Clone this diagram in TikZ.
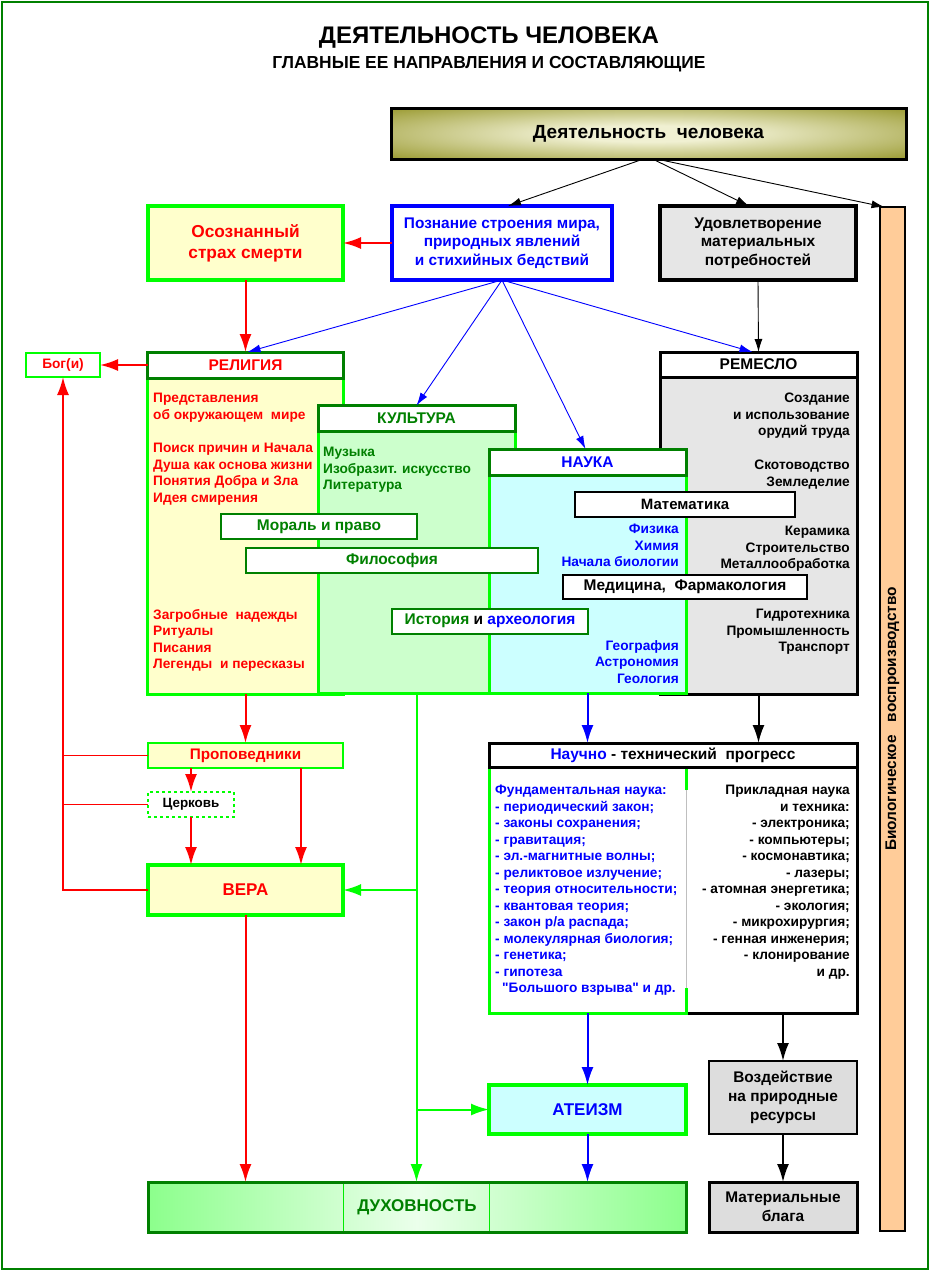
\documentclass[tikz,border=0pt]{standalone}
\usepackage{fontspec}
\setmainfont{Liberation Sans}
\usepackage{xcolor}
\usepackage{tikz}
\usetikzlibrary{positioning,calc,arrows.meta}

\definecolor{brightgreen}{RGB}{0,255,0}
\definecolor{darkgreen}{RGB}{0,128,0}
\definecolor{lightyellow}{RGB}{255,255,204}
\definecolor{lightgreen}{RGB}{204,255,204}
\definecolor{lightcyan}{RGB}{204,255,255}
\definecolor{remgray}{RGB}{230,230,230}
\definecolor{vozdgray}{RGB}{221,221,221}
\definecolor{peach}{RGB}{255,204,153}
\definecolor{olivedark}{RGB}{128,128,0}
\definecolor{olivelight}{RGB}{240,240,210}
\definecolor{dukhgreen}{RGB}{140,255,140}
\definecolor{dukhlight}{RGB}{235,255,235}

\newcommand{\fsz}[2]{\fontsize{#1}{#2}\selectfont\bfseries}
\newcommand{\dquote}{\XeTeXglyph\XeTeXcharglyph"22\relax}

\pgfdeclareradialshading{deyatshade}{\pgfpoint{0bp}{0bp}}{color(0bp)=(olivelight); color(8bp)=(olivelight); color(44bp)=(olivedark); color(50bp)=(olivedark)}

\begin{document}
\begin{tikzpicture}[x=1pt, y=-1pt,
    box/.style={rectangle, draw, inner sep=0pt, outer sep=0pt, align=center},
    headbox/.style={box, draw=darkgreen, line width=3pt, fill=white, minimum width=196pt, minimum height=26pt, font=\fsz{15.5}{18}},
    bodybox/.style={box, draw=brightgreen, line width=3pt, minimum width=196pt},
    subbox/.style={box, line width=2pt, fill=white, minimum height=25pt, font=\fsz{15.5}{18}},
    txt/.style={inner sep=0pt, font=\fsz{13.7}{16.5}},
    arrow/.style={-{Latex[length=18pt,width=12pt]}, line width=2pt},
    thinarrow/.style={-{Latex[length=13pt,width=8pt]}, line width=0.9pt}]

    \useasboundingbox (0,0) rectangle (931,1272);
    \draw[darkgreen, line width=2pt] (2,2) rectangle (928,1269);

    % title
    \node[font=\fsz{24}{28}, anchor=base] (title) at (489,43) {ДЕЯТЕЛЬНОСТЬ ЧЕЛОВЕКА};
    \node[font=\fsz{17.4}{20}, anchor=base] (subtitle) at (489,68) {ГЛАВНЫЕ ЕЕ НАПРАВЛЕНИЯ И СОСТАВЛЯЮЩИЕ};

    % top row
    \node[box, draw=black, line width=3pt, shade, shading=deyatshade, minimum width=515pt, minimum height=51pt, font=\fsz{19}{22}] (deyat) at (648.5,133.5) {Деятельность\ \ человека};
    \node[box, draw=blue, line width=3.3pt, fill=white, minimum width=220pt, minimum height=74pt, text=blue, font=\fsz{15.4}{18.5}] (pozn) at (502,243) {Познание строения мира,\\природных явлений\\и стихийных бедствий};
    \node[box, draw=brightgreen, line width=3.3pt, fill=lightyellow, minimum width=195pt, minimum height=74pt, text=red, font=\fsz{17.3}{21}] (osozn) at (245.5,243) {Осознанный\\страх смерти};
    \node[box, draw=black, line width=3.3pt, fill=remgray, minimum width=196pt, minimum height=74pt, font=\fsz{15.5}{18.5}] (udovl) at (758,243) {Удовлетворение\\материальных\\потребностей};
    \node[box, draw=black, line width=1.5pt, fill=peach, minimum width=25pt, minimum height=1024pt] (bio) at (892.5,719) {};
    \node[rotate=90, font=\fsz{15.4}{18}] (biotext) at (bio.center) {Биологическое\ \ \ воспроизводство};

    % religion
    \node[bodybox, fill=lightyellow, minimum height=316pt] (relbody) at (245.5,536) {};
    \node[headbox, text=red] (relhead) at (245.5,365) {РЕЛИГИЯ};
    \node[txt, text=red, anchor=north west, align=left] (relA) at (153,393) {Представления\\об окружающем\ \ мире};
    \node[txt, text=red, anchor=north west, align=left] (relB) at (153,443) {Поиск причин и Начала\\Душа как основа жизни\\Понятия Добра и Зла\\Идея смирения};
    \node[txt, text=red, anchor=north west, align=left] (relC) at (153,609) {Загробные\ \ надежды\\Ритуалы\\Писания\\Легенды\ \ и пересказы};

    % craft
    \node[bodybox, draw=black, fill=remgray, minimum width=197pt, minimum height=317pt] (rembody) at (758.5,535.5) {};
    \node[headbox, draw=black, minimum width=197pt, minimum height=25pt] (remhead) at (758.5,364.5) {РЕМЕСЛО};
    \node[txt, anchor=north east, align=right] (remA) at (850,393) {Создание\\и использование\\орудий труда};
    \node[txt, anchor=north east, align=right] (remB) at (850,460) {Скотоводство\\Земледелие};
    \node[txt, anchor=north east, align=right] (remC) at (850,526) {Керамика\\Строительство\\Металлообработка};
    \node[txt, anchor=north east, align=right] (remD) at (850,609) {Гидротехника\\Промышленность\\Транспорт};

    % culture
    \node[bodybox, fill=lightgreen, minimum width=197pt, minimum height=262pt] (kultbody) at (416.5,562.5) {};
    \node[headbox, text=darkgreen, minimum width=197pt] (kulthead) at (416.5,418.5) {КУЛЬТУРА};
    \node[txt, text=darkgreen, anchor=north west, align=left] (kultA) at (323,447) {Музыка\\Изобразит. искусство\\Литература};

    % science
    \node[bodybox, fill=lightcyan, minimum width=197pt, minimum height=218pt] (naukabody) at (587.5,584) {};
    \node[headbox, text=blue, minimum width=197pt] (naukahead) at (587.5,462) {НАУКА};
    \node[txt, text=blue, anchor=north east, align=right] (naukaA) at (679,524) {Физика\\Химия\\Начала биологии};
    \node[txt, text=blue, anchor=north east, align=right] (naukaB) at (679,640) {География\\Астрономия\\Геология};

    % shared fields
    \node[subbox, draw=darkgreen, text=darkgreen, minimum width=196pt] (moral) at (319,526.5) {Мораль и право};
    \node[subbox, draw=darkgreen, text=darkgreen, minimum width=292pt] (filos) at (392,560.5) {Философия};
    \node[subbox, draw=darkgreen, minimum width=196pt] (istor) at (490,621) {\textcolor{darkgreen}{История} и \textcolor{blue}{археология}};
    \node[subbox, draw=black, minimum width=220pt, font=\fsz{15}{18}] (matem) at (685,504.5) {Математика};
    \node[subbox, draw=black, minimum width=244pt, minimum height=24pt] (medic) at (685,587) {Медицина,\ \ Фармакология};

    % faith
    \node[box, draw=brightgreen, line width=1.5pt, fill=white, minimum width=74pt, minimum height=24pt, text=red, font=\fsz{13.7}{16}] (bog) at (63,365) {Бог(и)};
    \node[box, draw=brightgreen, line width=2pt, fill=lightyellow, minimum width=195pt, minimum height=25pt, text=red, font=\fsz{15.3}{18}] (propov) at (245.5,755.5) {Проповедники};
    \node[box, draw=brightgreen, dashed, line width=1.5pt, fill=white, minimum width=86pt, minimum height=25pt, font=\fsz{13.4}{16}] (tserk) at (191,804.5) {Церковь};
    \node[box, draw=brightgreen, line width=3.5pt, fill=lightyellow, minimum width=195pt, minimum height=50pt, text=red, font=\fsz{17}{20}] (vera) at (245.5,890) {ВЕРА};

    % progress
    \node[box, draw=black, line width=3pt, fill=white, minimum width=368pt, minimum height=246pt] (ntpbody) at (673,890) {};
    \draw[brightgreen, line width=3pt] (686,790) -- (686,767) -- (489,767) -- (489,1013) -- (686,1013) -- (686,988);
    \draw[black!25, line width=0.6pt] (686,790) -- (686,988);
    \node[box, draw=black, line width=3pt, fill=white, minimum width=368pt, minimum height=24pt, font=\fsz{15.5}{18}] (ntphead) at (673,755) {\textcolor{blue}{Научно} - технический\ \ прогресс};
    \node[txt, text=blue, anchor=north west, align=left] (fund) at (495,785) {Фундаментальная наука:\\- периодический закон;\\- законы сохранения;\\- гравитация;\\- эл.-магнитные волны;\\- реликтовое излучение;\\- теория относительности;\\- квантовая теория;\\- закон р/а распада;\\- молекулярная биология;\\- генетика;\\- гипотеза\\\hspace*{7pt}\dquote Большого взрыва\dquote\ и др.};
    \node[txt, anchor=north east, align=right] (prikl) at (850,785) {Прикладная наука\\и техника:\\- электроника;\\- компьютеры;\\- космонавтика;\\- лазеры;\\- атомная энергетика;\\- экология;\\- микрохирургия;\\- генная инженерия;\\- клонирование\\и др.};

    % bottom
    \node[box, draw=brightgreen, line width=3.5pt, fill=lightcyan, minimum width=197pt, minimum height=49pt, text=blue, font=\fsz{17}{20}] (ateizm) at (587.5,1109.5) {АТЕИЗМ};
    \node[box, draw=black, line width=2pt, fill=vozdgray, minimum width=148pt, minimum height=73pt, font=\fsz{15.4}{19}] (vozd) at (783,1097.5) {Воздействие\\на природные\\ресурсы};
    \node[box, draw=black, line width=3pt, fill=vozdgray, minimum width=148pt, minimum height=50pt, font=\fsz{15.4}{19}] (mater) at (783,1207) {Материальные\\блага};
    \node[box, draw=darkgreen, line width=3pt, left color=dukhgreen, right color=dukhgreen, middle color=dukhlight, minimum width=538pt, minimum height=50pt, text=darkgreen, font=\fsz{17}{20}] (dukh) at (417,1207) {ДУХОВНОСТЬ};
    \draw[brightgreen!85!darkgreen, line width=0.8pt] (343,1183.5) -- (343,1230.5);
    \draw[brightgreen!85!darkgreen, line width=0.8pt] (489,1183.5) -- (489,1230.5);

    % connectors
    \draw[thinarrow] ([xshift=-5pt]deyat.south) -- ([xshift=6pt]pozn.north);
    \draw[thinarrow] ([xshift=4pt]deyat.south) -- ([xshift=-9pt]udovl.north);
    \draw[thinarrow] ([xshift=8pt]deyat.south) -- ([xshift=-8pt]bio.north);
    \draw[arrow, red] (pozn.west) -- (osozn.east);
    \draw[arrow, red] (osozn.south) -- (relhead.north);
    \draw[arrow, red] (relhead.west) -- (bog.east);
    \draw[thinarrow, blue] (pozn.south) -- ([xshift=2pt]relhead.north);
    \draw[thinarrow, blue] (pozn.south) -- (kulthead.north);
    \draw[thinarrow, blue] (pozn.south) -- ([xshift=-2pt]naukahead.north);
    \draw[thinarrow, blue] (pozn.south) -- ([xshift=-6pt]remhead.north);
    \draw[thinarrow] (udovl.south) -- (remhead.north);

    \draw[arrow, red] (relbody.south) -- (propov.north);
    \draw[arrow, red] (tserk.north |- propov.south) -- (tserk.north);
    \draw[arrow, red] (tserk.south) -- (tserk.south |- vera.north);
    \draw[arrow, red] ([xshift=55.5pt]propov.south) -- ([xshift=55.5pt]vera.north);
    \draw[arrow, red] (vera.west) -| (bog.south);
    \draw[red, line width=1.8pt] (propov.west) -- (propov.west -| bog.south);
    \draw[red, line width=1.8pt] (tserk.west) -- (tserk.west -| bog.south);
    \draw[arrow, red] (vera.south) -- (vera.south |- dukh.north);

    \coordinate (kvera) at (kultbody.south |- vera.east);
    \coordinate (kateizm) at (kultbody.south |- ateizm.west);
    \draw[arrow, brightgreen] (kultbody.south) -- (kultbody.south |- dukh.north);
    \draw[arrow, brightgreen] (kvera) -- (vera.east);
    \draw[arrow, brightgreen] (kateizm) -- (ateizm.west);

    \draw[arrow, blue] (naukabody.south) -- (naukabody.south |- ntphead.north);
    \draw[arrow] (rembody.south) -- (rembody.south |- ntphead.north);
    \draw[arrow, blue] (ateizm.north |- ntpbody.south) -- (ateizm.north);
    \draw[arrow, blue] (ateizm.south) -- (ateizm.south |- dukh.north);
    \draw[arrow] (vozd.north |- ntpbody.south) -- (vozd.north);
    \draw[arrow] (vozd.south) -- (mater.north);
\end{tikzpicture}
\end{document}
